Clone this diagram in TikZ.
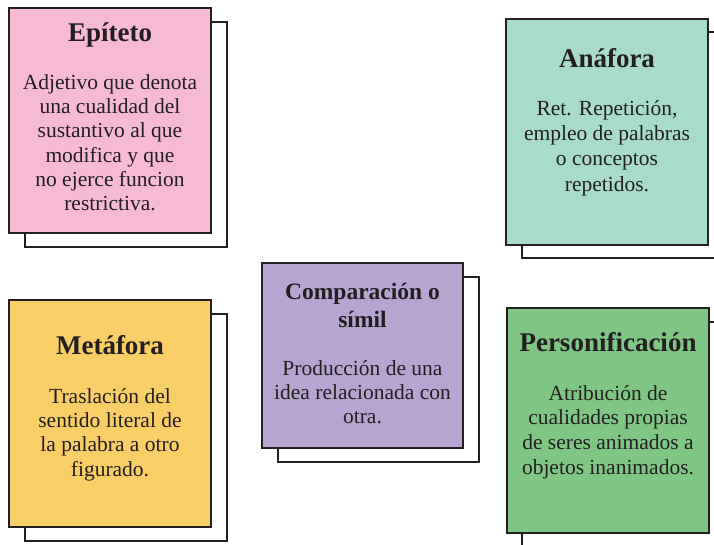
\documentclass[tikz,border=0pt]{standalone}
\usepackage{fontspec}
\setmainfont{Liberation Serif}
\definecolor{ink}{HTML}{231F20}
\definecolor{cpink}{HTML}{F6BAD4}
\definecolor{cteal}{HTML}{A8DBCB}
\definecolor{cyellow}{HTML}{F8CE66}
\definecolor{clav}{HTML}{B6A5D0}
\definecolor{cgreen}{HTML}{7FC685}
\begin{document}
\begin{tikzpicture}[x=1pt,y=1pt,
  card/.style={draw=ink, line width=2.4pt, minimum width=202pt, minimum height=225pt, inner sep=0pt},
  backcard/.style={card, fill=white},
  ttl/.style={font=\fontsize{27}{30}\selectfont\bfseries, text=ink, inner sep=0pt, align=center, anchor=base},
  ttltwo/.style={font=\fontsize{23.5}{28}\selectfont\bfseries, text=ink, inner sep=0pt, align=center, anchor=north},
  body/.style={font=\fontsize{21.5}{24.3}\selectfont, text=ink, inner sep=0pt, align=center, anchor=north}]
\clip (0,0) rectangle (714,544);
\fill[white] (0,0) rectangle (714,544);
% Epiteto
\node[backcard] (epib) at (126,409.5) {};
\node[card, fill=cpink] (epif) at (110,423.5) {};
\node[ttl] (epit) at (110,502) {Epíteto};
\node[body] (epid) at (110,470) {Adjetivo que denota\\una cualidad del\\sustantivo al que\\modifica y que\\no ejerce funcion\\restrictiva.};
% Anafora
\node[backcard, minimum height=226pt] (anab) at (623,399) {};
\node[card, fill=cteal, minimum height=226pt] (anaf) at (607,412) {};
\node[ttl] (anat) at (607,476) {Anáfora};
\node[body, font=\fontsize{21.5}{25.3}\selectfont] (anad) at (607,444) {Ret. Repetición,\\empleo de palabras\\o conceptos\\repetidos.};
% Metafora
\node[backcard, minimum height=227pt] (metb) at (126,116.5) {};
\node[card, fill=cyellow, minimum height=227pt] (metf) at (110,130.5) {};
\node[ttl] (mett) at (110,190) {Metáfora};
\node[body] (metd) at (110,156) {Traslación del\\sentido literal de\\la palabra a otro\\figurado.};
% Comparacion
\node[backcard, minimum width=201pt, minimum height=185pt] (comb) at (378.5,174.5) {};
\node[card, fill=clav, minimum width=201pt, minimum height=185pt] (comf) at (362.5,188.5) {};
\node[ttltwo] (comt) at (362.5,261) {Comparación o\\símil};
\node[body] (comd) at (362.5,184) {Producción de una\\idea relacionada con\\otra.};
% Personificacion
\node[backcard] (perb) at (623,109.5) {};
\node[card, fill=cgreen] (perf) at (608,123.5) {};
\node[ttl] (pert) at (608,193) {Personificación};
\node[body, font=\fontsize{21.5}{24.8}\selectfont] (perd) at (608,159) {Atribución de\\cualidades propias\\de seres animados a\\objetos inanimados.};
\end{tikzpicture}
\end{document}
